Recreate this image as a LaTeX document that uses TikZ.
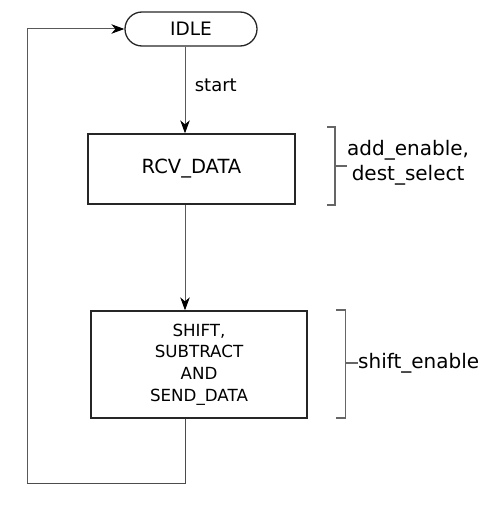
\documentclass[tikz,border=0pt]{standalone}
\usepackage{fontspec}
\setmainfont{DejaVu Sans}
\usetikzlibrary{shapes.misc,arrows.meta}
\tikzset{
	statebox/.style={draw=black!85,line width=1.3pt,inner sep=0pt,font=\fontsize{18.5}{21}\selectfont},
	conn/.style={draw=black!65,line width=1pt,-{Stealth[length=13pt,width=9.5pt,inset=4pt,black]}},
	wire/.style={draw=black!70,line width=1pt},
	brk/.style={draw=black!60,line width=1.2pt},
	outlbl/.style={font=\fontsize{20}{25}\selectfont,align=center,inner sep=0pt}
}
\begin{document}
\begin{tikzpicture}[x=1pt,y=-1pt]
	\useasboundingbox (0,0) rectangle (496,516);
	% states
	\node[statebox,rounded rectangle,minimum width=132pt,minimum height=34pt] (idle) at (191,29) {IDLE\hspace{10pt}};
	\node[statebox,minimum width=207pt,minimum height=70pt,font=\fontsize{19.5}{21}\selectfont] (rcv) at (191.5,169) {RCV\_DATA\hspace{6pt}\\[-6pt]\strut};
	\node[statebox,minimum width=216pt,minimum height=107pt,align=center,font=\fontsize{16.7}{21.7}\selectfont] (shift) at (199,364.5) {SHIFT,\\SUBTRACT\\AND\\SEND\_DATA};
	\coordinate (spine) at (185,0);
	\coordinate (back) at (27,483);
	% transitions
	\draw[conn] (idle.south -| spine) -- node[right,xshift=6pt,yshift=5pt,font=\fontsize{18}{20}\selectfont] (startlbl) {start} (rcv.north -| spine);
	\draw[conn] (rcv.south -| spine) -- (shift.north -| spine);
	\draw[wire] (shift.south -| spine) |- (back);
	\draw[conn] (back) |- (idle.west);
	% outputs
	\draw[brk] (327,127) -- (335,127) -- (335,205) -- (327,205);
	\draw[brk] (335,166) -- (347,166);
	\node[outlbl,anchor=west] (rcvout) at (347,163) {add\_enable,\\dest\_select};
	\draw[brk] (336,310) -- (345.5,310) -- (345.5,418) -- (336,418);
	\draw[brk] (345.5,363) -- (357.5,363);
	\node[outlbl,anchor=west] (shiftout) at (358,363) {shift\_enable};
\end{tikzpicture}
\end{document}
